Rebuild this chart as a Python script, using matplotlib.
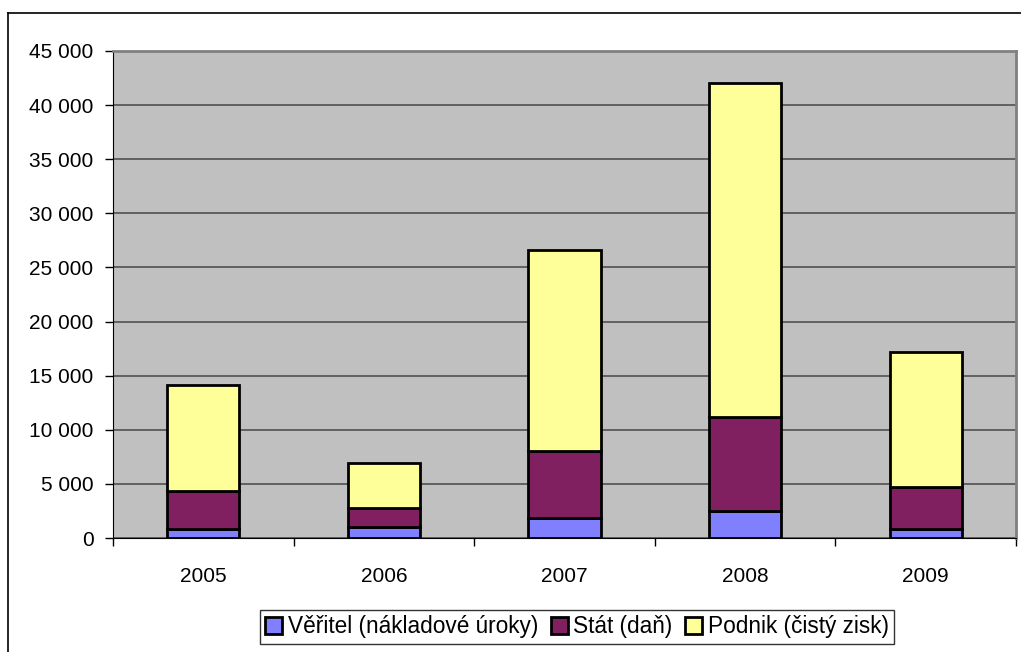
import matplotlib
matplotlib.use("Agg")
import matplotlib.pyplot as plt
from matplotlib.lines import Line2D
from matplotlib.ticker import FuncFormatter
import numpy as np

plt.rcParams['font.family'] = ['Liberation Sans', 'DejaVu Sans']

years = ['2005', '2006', '2007', '2008', '2009']
veritel = [800, 1020, 1880, 2520, 860]
stat = [3540, 1720, 6190, 8690, 3820]
podnik = [9770, 4160, 18550, 30840, 12510]
labels = ['Věřitel (nákladové úroky)', 'Stát (daň)', 'Podnik (čistý zisk)']
colors = ['#8080FF', '#802060', '#FFFF99']

W, H = 1021, 652
fig = plt.figure(figsize=(W / 100, H / 100), dpi=100)
ax = fig.add_axes([113 / W, 1 - 538 / H, (1016 - 113) / W, (538 - 51) / H])
ax.set_facecolor('#C0C0C0')

x = np.arange(len(years))
bottom = np.zeros(len(years))
for vals, lab, col in zip([veritel, stat, podnik], labels, colors):
    ax.bar(x, vals, 0.4, bottom=bottom, color=col, edgecolor='black',
           linewidth=2, label=lab, zorder=3)
    bottom += np.array(vals)

ax.set_xlim(-0.5, len(years) - 0.5)
ax.set_ylim(0, 45000)
ax.set_yticks(np.arange(0, 45001, 5000))
ax.yaxis.set_major_formatter(FuncFormatter(lambda v, p: f'{int(v):,}'.replace(',', ' ')))
ax.yaxis.grid(True, color='#5a5a5a', linewidth=1.3, zorder=1)
ax.set_axisbelow(True)

ax.set_xticks(x)
ax.set_xticklabels(years)
ax.set_xticks(np.arange(-0.5, len(years)), minor=True)
ax.tick_params(axis='x', which='major', length=0, pad=21, labelsize=15)
ax.tick_params(axis='x', which='minor', length=6, width=1, direction='out')
ax.tick_params(axis='y', length=6, width=1, pad=8, labelsize=15)

ax.spines['top'].set_color('#808080')
ax.spines['right'].set_color('#808080')
ax.spines['top'].set_linewidth(2)
ax.spines['right'].set_linewidth(2)
ax.spines['left'].set_color('black')
ax.spines['bottom'].set_color('black')

# outer chart frame
fig.add_artist(Line2D([8 / W, 8 / W], [0, 1 - 13 / H], color='black', lw=1.2, transform=fig.transFigure))
fig.add_artist(Line2D([8 / W, 1], [1 - 13 / H, 1 - 13 / H], color='black', lw=1.2, transform=fig.transFigure))

leg = fig.legend(loc='center', bbox_to_anchor=(577 / W, 1 - 627 / H), ncol=3,
                 fontsize=16.3, frameon=True, fancybox=False, edgecolor='black',
                 handlelength=0.75, handleheight=0.75, handletextpad=0.25,
                 columnspacing=0.55, borderpad=0.25)
leg.get_frame().set_linewidth(1)

fig.savefig('out.png', dpi=100)
